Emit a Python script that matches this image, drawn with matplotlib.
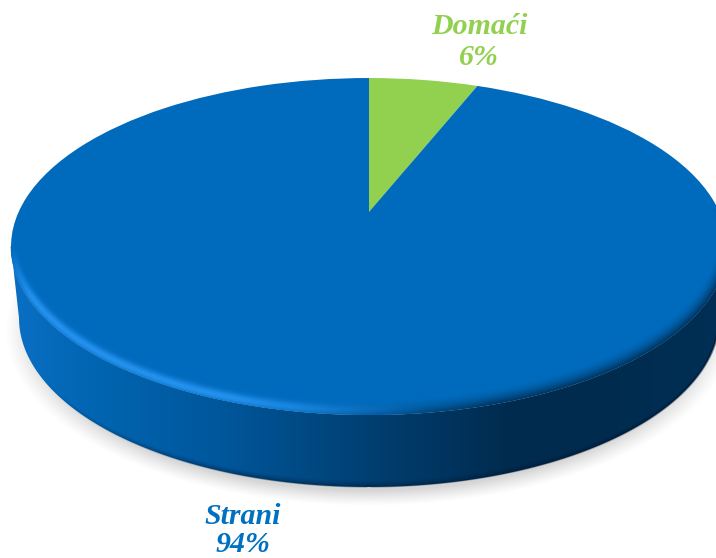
import numpy as np
import matplotlib
matplotlib.use("Agg")
import matplotlib.pyplot as plt
from matplotlib.collections import LineCollection
from matplotlib.colors import LinearSegmentedColormap, to_rgb
from matplotlib.patches import Polygon
from matplotlib.transforms import Transform

labels = ["Domaći", "Strani"]
values = [6, 94]
percent_labels = ["6%", "94%"]
slice_colors = ["#92d050", "#006bbd"]
text_colors = ["#92d050", "#0070c0"]

W, H = 716, 558
CX, CY, RX, RY = 369, 246.5, 358, 168.5   # top face outline
BCY, BRX, BRY = 318, 350, 169             # bottom face outline


# perspective of the pie top, unit circle -> pixels
class PieTilt(Transform):
    input_dims = 2
    output_dims = 2
    k = 0.2047

    def transform_non_affine(self, xy):
        xy = np.asarray(xy, dtype=float)
        d = 1 + self.k * xy[:, 1]
        return np.column_stack((369 + 350.4 * xy[:, 0] / d, 212 - 161.4 * xy[:, 1] / d))


fig = plt.figure(figsize=(W / 100, H / 100), dpi=100)
ax = fig.add_axes([0, 0, 1, 1])

# soft shadow under the disc
xx, yy = np.meshgrid(np.arange(W) + 0.5, np.arange(H) + 0.5)
r = np.sqrt(((xx - CX) / 364) ** 2 + ((yy - 330) / 176) ** 2)
shadow = np.zeros((H, W, 4))
shadow[..., :3] = 0.45
shadow[..., 3] = 0.30 * np.clip((1.0 - r) / 0.09, 0, 1) ** 1.2
ax.imshow(shadow, extent=(0, W, H, 0), zorder=1, interpolation="bilinear")

# side wall
th = np.linspace(np.pi, 0, 300)
low = np.column_stack((CX + BRX * np.cos(th), BCY + BRY * np.sin(th)))
up = np.column_stack((CX + RX * np.cos(th[::-1]), CY + RY * np.sin(th[::-1])))
wall = Polygon(np.vstack((low, up)), closed=True, transform=ax.transData, fc="none", ec="none")
ax.add_patch(wall)
wall_stops = [(0.0, "#0a6fc4"), (0.14, "#0063ae"), (0.30, "#00569a"), (0.50, "#003f72"),
              (0.70, "#002b4e"), (0.85, "#002c50"), (1.0, "#012f55")]
wall_cmap = LinearSegmentedColormap.from_list("wall", wall_stops)
im = ax.imshow(np.linspace(0, 1, 400).reshape(1, -1), extent=(11, 727, 500, 240),
               cmap=wall_cmap, aspect="auto", zorder=2)
im.set_clip_path(wall)

# dark seam along the bottom of the wall, fading out towards the left
for i, a in enumerate([0.30, 0.20, 0.10, 0.05]):
    sx = CX + BRX * np.cos(th)
    sy = BCY + (BRY - i * 1.5 - 0.5) * np.sin(th)
    fade = np.clip((sx - 40) / 200, 0, 1) * a
    pts = np.column_stack((sx, sy)).reshape(-1, 1, 2)
    segs = np.concatenate((pts[:-1], pts[1:]), axis=1)
    rgba = np.zeros((len(segs), 4))
    rgba[:, :3] = to_rgb("#00142a")
    rgba[:, 3] = fade[:-1]
    ax.add_collection(LineCollection(segs, colors=rgba, linewidths=1.6, zorder=3))

# top face
wedges, _ = ax.pie(values, colors=slice_colors, startangle=90, counterclock=False,
                   wedgeprops={"linewidth": 0})
tilt = PieTilt()
for w in wedges:
    w.set_transform(tilt + ax.transData)
    w.set_zorder(4)

# bevel on the rim of the top face
base = np.array(to_rgb("#006bbd"))
light = np.array(to_rgb("#2592f0"))
dark = np.array(to_rgb("#012f55"))
phi = np.linspace(-0.2, np.pi, 500)
for t in np.linspace(0.06, 1, 26):
    x = CX + (RX - 11 * t) * np.cos(phi)
    y = (CY - 8.5 * t) + (RY - 8.5 * t) * np.sin(phi)
    hl = np.clip((430 - x) / 200, 0, 1) * np.clip((y - 246) / 50, 0, 1)
    dk = np.clip((x - 300) / 190, 0, 1) * np.clip((y - 170) / 90, 0, 1)
    hl_amt = np.exp(-((t - 0.30) / 0.30) ** 2) * hl
    dk_amt = (1 - t) ** 1.8 * dk
    cols = base + hl_amt[:, None] * (light - base) + dk_amt[:, None] * (dark - base)
    pts = np.column_stack((x, y)).reshape(-1, 1, 2)
    segs = np.concatenate((pts[:-1], pts[1:]), axis=1)
    ax.add_collection(LineCollection(segs, colors=cols[:-1], linewidths=1.4, zorder=5))

ax.set_aspect("auto")
ax.set_xlim(0, W)
ax.set_ylim(H, 0)
ax.axis("off")

# labels
label_pos = [(479, 34), (243, 524)]
pct_pos = [(479, 65), (243, 552)]
for i in range(2):
    ax.text(label_pos[i][0], label_pos[i][1], labels[i], color=text_colors[i], fontsize=21.5,
            family="Liberation Serif", style="italic", weight="bold", ha="center", va="baseline",
            zorder=6)
    ax.text(pct_pos[i][0], pct_pos[i][1], percent_labels[i], color=text_colors[i], fontsize=21.5,
            family="Liberation Serif", style="italic", weight="bold", ha="center", va="baseline",
            zorder=6)

fig.savefig("out.png", dpi=100)
